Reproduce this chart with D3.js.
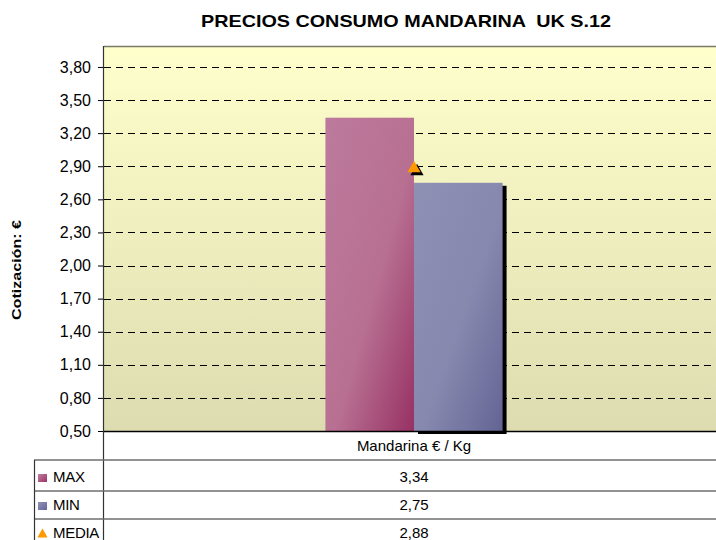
<!DOCTYPE html>
<html>
<head>
<meta charset="utf-8">
<script src="https://cdn.jsdelivr.net/npm/d3@7/dist/d3.min.js"></script>
<style>
  body { margin: 0; background: #fff; }
  svg text { font-family: "Liberation Sans", Arial, sans-serif; fill: #000; }
</style>
</head>
<body>
<div id="chart"></div>
<script>
// datos
var categorias = ["Mandarina € / Kg"];
var series = ["MAX", "MIN"];
var valoresMax = [3.34];
var valoresMin = [2.75];
var valoresMedia = [2.88];
var ticksY = [0.50, 0.80, 1.10, 1.40, 1.70, 2.00, 2.30, 2.60, 2.90, 3.20, 3.50, 3.80];

var W = 716, H = 540;
var pIzq = 104, pDer = 724, pTop = 46, pBase = 431;
var tablaIzq = 34, filasY = [460, 491, 519, 547];

var svg = d3.select("#chart").append("svg")
  .attr("width", W).attr("height", H);

var fmt = function(v){ return d3.format(".2f")(v).replace(".", ","); };

/* gradientes */
var defs = svg.append("defs");
var bg = defs.append("linearGradient").attr("id", "fondo")
  .attr("x1", 0).attr("y1", 0).attr("x2", 0).attr("y2", 1);
bg.append("stop").attr("offset", "0%").attr("stop-color", "#ffffcc");
bg.append("stop").attr("offset", "100%").attr("stop-color", "#dcdcb0");

function gradBarra(id, c1, c2, c3) {
  var g = defs.append("linearGradient").attr("id", id)
    .attr("x1", 0).attr("y1", 0).attr("x2", 1).attr("y2", 1);
  g.append("stop").attr("offset", "0%").attr("stop-color", c1);
  g.append("stop").attr("offset", "55%").attr("stop-color", c2);
  g.append("stop").attr("offset", "100%").attr("stop-color", c3);
}
gradBarra("gMax", "#bc7a9c", "#b87092", "#973164");
gradBarra("gMin", "#8e90b4", "#8688ae", "#646494");

function gradIcono(id, c1, c2) {
  var g = defs.append("linearGradient").attr("id", id)
    .attr("x1", 0).attr("y1", 0).attr("x2", 1).attr("y2", 1);
  g.append("stop").attr("offset", "0%").attr("stop-color", c1);
  g.append("stop").attr("offset", "100%").attr("stop-color", c2);
}
gradIcono("iMax", "#c07fa0", "#9a3366");
gradIcono("iMin", "#9092b6", "#666699");

/* escalas */
var y = d3.scaleLinear().domain([0.5, 3.99]).range([pBase, pTop]);
var x0 = d3.scaleBand().domain(categorias).range([pIzq, pDer]).paddingOuter(1.25);
var x1 = d3.scaleBand().domain(series).range([0, x0.bandwidth()]);
var centro = function(c){ return x0(c) + x0.bandwidth() / 2; };

/* area de trazado */
svg.append("rect")
  .attr("x", pIzq).attr("y", pTop)
  .attr("width", pDer - pIzq).attr("height", pBase - pTop)
  .attr("fill", "url(#fondo)");

svg.append("line")
  .attr("x1", pIzq).attr("x2", W).attr("y1", pTop + 0.5).attr("y2", pTop + 0.5)
  .attr("stroke", "#7a7a6a").attr("stroke-width", 1.5);

svg.selectAll(".grid")
  .data(ticksY.slice(1))
  .enter().append("line")
  .attr("class", "grid")
  .attr("x1", pIzq).attr("x2", W)
  .attr("y1", function(d){ return Math.round(y(d)) + 0.5; })
  .attr("y2", function(d){ return Math.round(y(d)) + 0.5; })
  .attr("stroke", "#000").attr("stroke-dasharray", "7,5");

/* barras */
var datos = categorias.map(function(c, i){
  return [{ s: "MAX", c: c, v: valoresMax[i], f: "url(#gMax)" },
          { s: "MIN", c: c, v: valoresMin[i], f: "url(#gMin)" }];
});
var grupo = svg.selectAll(".grupo").data(datos).enter().append("g")
  .attr("transform", function(d, i){ return "translate(" + x0(categorias[i]) + ",0)"; });

// solo la sombra de la ultima serie queda visible
grupo.selectAll(".sombra").data(function(d){ return d.filter(function(e){ return e.s == "MIN"; }); })
  .enter().append("rect")
  .attr("x", function(d){ return x1(d.s) + 4; })
  .attr("y", function(d){ return y(d.v) + 3; })
  .attr("width", x1.bandwidth())
  .attr("height", function(d){ return pBase - y(d.v); })
  .attr("fill", "#000");

grupo.selectAll(".barra").data(function(d){ return d; }).enter().append("rect")
  .attr("x", function(d){ return x1(d.s); })
  .attr("y", function(d){ return y(d.v); })
  .attr("width", x1.bandwidth())
  .attr("height", function(d){ return pBase - y(d.v); })
  .attr("fill", function(d){ return d.f; });

/* media */
var tri = d3.symbol().type(d3.symbolTriangle).size(75);
categorias.forEach(function(c, i){
  var cx = centro(c), cy = y(valoresMedia[i]);
  svg.append("path").attr("d", tri())
    .attr("transform", "translate(" + (cx + 3) + "," + (cy + 3) + ")")
    .attr("fill", "#000");
  svg.append("path").attr("d", tri())
    .attr("transform", "translate(" + cx + "," + cy + ")")
    .attr("fill", "#ff9900");
});

/* eje y */
var ejeY = svg.append("g")
  .attr("transform", "translate(" + pIzq + ",0)")
  .call(d3.axisLeft(y).tickValues(ticksY).tickFormat(fmt).tickSize(6).tickPadding(7));
ejeY.select(".domain").remove();
ejeY.selectAll(".tick line").attr("stroke", "#000");
ejeY.selectAll(".tick text").style("font-size", "16px");

svg.append("line")
  .attr("x1", pIzq - 0.5).attr("x2", pIzq - 0.5).attr("y1", pTop).attr("y2", H)
  .attr("stroke", "#333").attr("stroke-width", 1.2);

/* eje x */
svg.append("line")
  .attr("x1", pIzq).attr("x2", W).attr("y1", pBase + 0.5).attr("y2", pBase + 0.5)
  .attr("stroke", "#000").attr("stroke-width", 1.5);

svg.selectAll(".cat").data(categorias).enter().append("text")
  .attr("x", centro)
  .attr("y", 451)
  .attr("text-anchor", "middle")
  .style("font-size", "15px")
  .text(function(d){ return d; });

/* titulos */
svg.append("text")
  .attr("x", 406).attr("y", 27)
  .attr("text-anchor", "middle")
  .attr("textLength", 410).attr("lengthAdjust", "spacingAndGlyphs")
  .style("font-size", "17px").style("font-weight", "bold")
  .style("white-space", "pre")
  .text("PRECIOS CONSUMO MANDARINA  UK S.12");

svg.append("text")
  .attr("transform", "translate(21,270) rotate(-90)")
  .attr("text-anchor", "middle")
  .attr("textLength", 100).attr("lengthAdjust", "spacingAndGlyphs")
  .style("font-size", "13px").style("font-weight", "bold")
  .text("Cotización: €");

/* tabla de datos */
var filas = [
  { n: "MAX", v: valoresMax, icono: "sq", f: "url(#iMax)" },
  { n: "MIN", v: valoresMin, icono: "sq", f: "url(#iMin)" },
  { n: "MEDIA", v: valoresMedia, icono: "tri", f: "#ff9900" }
];

filasY.forEach(function(yy){
  svg.append("line")
    .attr("x1", tablaIzq).attr("x2", W).attr("y1", yy).attr("y2", yy)
    .attr("stroke", "#6e6e6e").attr("stroke-width", 1.6);
});
svg.append("line")
  .attr("x1", tablaIzq + 0.5).attr("x2", tablaIzq + 0.5).attr("y1", filasY[0]).attr("y2", H)
  .attr("stroke", "#333").attr("stroke-width", 1.2);

filas.forEach(function(f, i){
  var base = filasY[i + 1] - 9.5;
  if (f.icono == "sq") {
    svg.append("rect").attr("x", 38).attr("y", base - 7.5).attr("width", 9).attr("height", 8)
      .attr("fill", f.f);
  } else {
    svg.append("path").attr("d", d3.symbol().type(d3.symbolTriangle).size(45)())
      .attr("transform", "translate(42.5," + (base - 3) + ")").attr("fill", f.f);
  }
  svg.append("text").attr("x", 53).attr("y", base)
    .style("font-size", "15px").style("letter-spacing", "-0.3px").text(f.n);
  svg.append("text").attr("x", centro(categorias[0])).attr("y", base)
    .attr("text-anchor", "middle").style("font-size", "15px")
    .text(fmt(f.v[0]));
});
</script>
</body>
</html>
